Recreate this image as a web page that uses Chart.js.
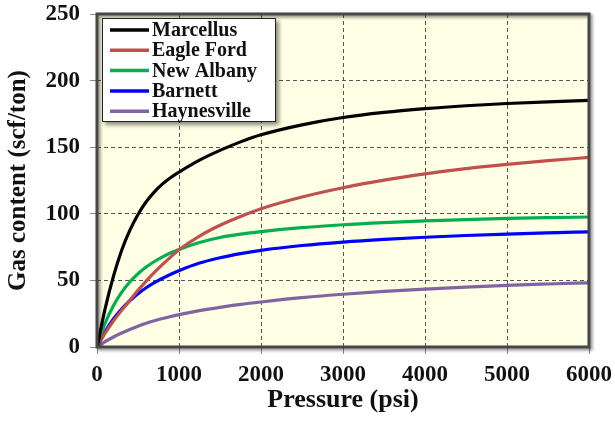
<!DOCTYPE html>
<html>
<head>
<meta charset="utf-8">
<script src="https://cdn.jsdelivr.net/npm/chart.js@4.4.0/dist/chart.umd.min.js"></script>
<style>
  html, body { margin: 0; padding: 0; background: #ffffff; }
  #wrap { width: 615px; height: 424px; position: relative; }
</style>
</head>
<body>
<div id="wrap"><canvas id="c" width="615" height="424"></canvas></div>
<script>
// ---- data ----
const pressure    = [0, 100, 200, 300, 400, 500, 600, 700, 800, 900, 1000, 1250, 1500, 1750, 2000, 2500, 3000, 3500, 4000, 4500, 5000, 5500, 6000];
const marcellus   = [0, 29, 53, 72.5, 87.5, 99.5, 109, 116.5, 122.5, 127.3, 131.3, 140.3, 147.6, 154, 159.3, 166.8, 172.3, 176.1, 178.9, 181.1, 182.8, 184.1, 185.1];
const eagleFord   = [0, 10.5, 19.5, 27.5, 35, 42.5, 49.5, 56, 62, 67.7, 73, 83.3, 91.4, 98, 103.8, 112.6, 119.6, 125.3, 130, 133.9, 137.1, 139.9, 142.3];
const newAlbany   = [0, 18, 31, 41, 48.8, 55, 60, 64.2, 67.7, 70.7, 73.2, 78.5, 82.2, 84.7, 86.6, 89.6, 91.8, 93.4, 94.7, 95.7, 96.5, 97.1, 97.6];
const barnett     = [0, 11.5, 21, 28.5, 34.7, 40, 44.5, 48.3, 51.6, 54.6, 57.3, 63, 67, 70.1, 72.6, 76.2, 78.8, 80.8, 82.4, 83.7, 84.8, 85.7, 86.5];
const haynesville = [0, 4, 7.5, 10.5, 13.2, 15.6, 17.8, 19.7, 21.4, 22.9, 24.3, 27.3, 29.8, 32, 33.8, 37, 39.6, 41.7, 43.5, 45, 46.3, 47.3, 48.2];

const seriesNames  = ['Marcellus', 'Eagle Ford', 'New Albany', 'Barnett', 'Haynesville'];
const seriesValues = [marcellus, eagleFord, newAlbany, barnett, haynesville];
const seriesColors = ['#000000', '#C0504D', '#00B050', '#0000FF', '#8064A2'];

const xTickValues = [0, 1000, 2000, 3000, 4000, 5000, 6000];
const yTickValues = [0, 50, 100, 150, 200, 250];
const xTitle = 'Pressure (psi)';
const yTitle = 'Gas content (scf/ton)';

const FONT = '"Liberation Serif", "Times New Roman", serif';

const datasets = seriesNames.map((name, i) => ({
  label: name,
  data: pressure.map((p, j) => ({ x: p, y: seriesValues[i][j] })),
  borderColor: seriesColors[i],
  backgroundColor: seriesColors[i],
  borderWidth: 3.2,
  pointRadius: 0,
  fill: false,
  cubicInterpolationMode: 'monotone'
}));

const areaBg = {
  id: 'areaBg',
  beforeDraw(chart) {
    const { ctx, chartArea: a } = chart;
    ctx.save();
    ctx.fillStyle = '#FFFFE5';
    ctx.fillRect(a.left, a.top, a.right - a.left, a.bottom - a.top);
    ctx.restore();
  }
};

const frameAndLegend = {
  id: 'frameAndLegend',
  afterDraw(chart) {
    const { ctx, chartArea: a } = chart;
    ctx.save();
    ctx.shadowColor = 'rgba(0,0,0,0.45)';
    ctx.shadowBlur = 3;
    ctx.shadowOffsetX = 2;
    ctx.shadowOffsetY = 2;
    ctx.strokeStyle = '#474747';
    ctx.lineWidth = 3;
    ctx.strokeRect(a.left, a.top, a.right - a.left, a.bottom - a.top);
    ctx.restore();

    // legend box
    const bx = a.left + 5, by = a.top + 4, bw = 174, bh = 104;
    ctx.save();
    ctx.shadowColor = 'rgba(0,0,0,0.45)';
    ctx.shadowBlur = 4;
    ctx.shadowOffsetX = 3;
    ctx.shadowOffsetY = 3;
    ctx.fillStyle = '#ffffff';
    ctx.fillRect(bx, by, bw, bh);
    ctx.restore();
    ctx.save();
    ctx.strokeStyle = '#222222';
    ctx.lineWidth = 1;
    ctx.strokeRect(bx + 0.5, by + 0.5, bw - 1, bh - 1);
    ctx.font = 'bold 20px ' + FONT;
    ctx.textBaseline = 'middle';
    ctx.textAlign = 'left';
    chart.data.datasets.forEach((ds, i) => {
      const cy = by + 12 + i * 20.3;
      ctx.strokeStyle = ds.borderColor;
      ctx.lineWidth = 3.5;
      ctx.beginPath();
      ctx.moveTo(bx + 8, cy);
      ctx.lineTo(bx + 47, cy);
      ctx.stroke();
      ctx.fillStyle = '#111111';
      ctx.fillText(ds.label, bx + 50, cy + 1);
    });
    ctx.restore();
  }
};

new Chart(document.getElementById('c'), {
  type: 'line',
  data: { datasets },
  options: {
    responsive: false,
    animation: false,
    devicePixelRatio: 1,
    layout: { padding: { top: 14, right: 26, left: 0, bottom: 0 } },
    plugins: { legend: { display: false }, tooltip: { enabled: false } },
    scales: {
      x: {
        type: 'linear',
        min: 0, max: 6000,
        afterBuildTicks(scale) { scale.ticks = xTickValues.map(v => ({ value: v })); },
        afterFit(scale) {
          scale.height = 77;
          scale.paddingLeft = 0;
          scale.paddingRight = 0;
        },
        ticks: {
          font: { family: FONT, size: 23, weight: 'bold' },
          color: '#111111',
          padding: 7,
          maxRotation: 0,
          autoSkip: false,
          callback: (v) => String(v)
        },
        grid: {
          color: '#555555',
          lineWidth: 1,
          drawTicks: true,
          tickLength: 7,
          tickColor: '#8a8a8a',
          tickBorderDash: [],
          tickWidth: 1
        },
        border: { display: false, dash: [4, 3] },
        title: {
          display: true,
          text: xTitle,
          font: { family: FONT, size: 26, weight: 'bold' },
          color: '#111111',
          padding: { top: 0, bottom: 8 }
        }
      },
      y: {
        type: 'linear',
        min: 0, max: 250,
        afterBuildTicks(scale) { scale.ticks = yTickValues.map(v => ({ value: v })); },
        afterFit(scale) {
          scale.width = 97;
          scale.paddingTop = 0;
          scale.paddingBottom = 0;
        },
        ticks: {
          font: { family: FONT, size: 23, weight: 'bold' },
          color: '#111111',
          padding: 10,
          autoSkip: false,
          callback: (v) => String(v)
        },
        grid: {
          color: '#555555',
          lineWidth: 1,
          drawTicks: true,
          tickLength: 7,
          tickColor: '#8a8a8a',
          tickBorderDash: [],
          tickWidth: 1
        },
        border: { display: false, dash: [4, 3] },
        title: {
          display: true,
          text: yTitle,
          font: { family: FONT, size: 25, weight: 'bold' },
          color: '#111111',
          padding: { top: 4, bottom: 0 }
        }
      }
    }
  },
  plugins: [areaBg, frameAndLegend]
});
</script>
</body>
</html>
